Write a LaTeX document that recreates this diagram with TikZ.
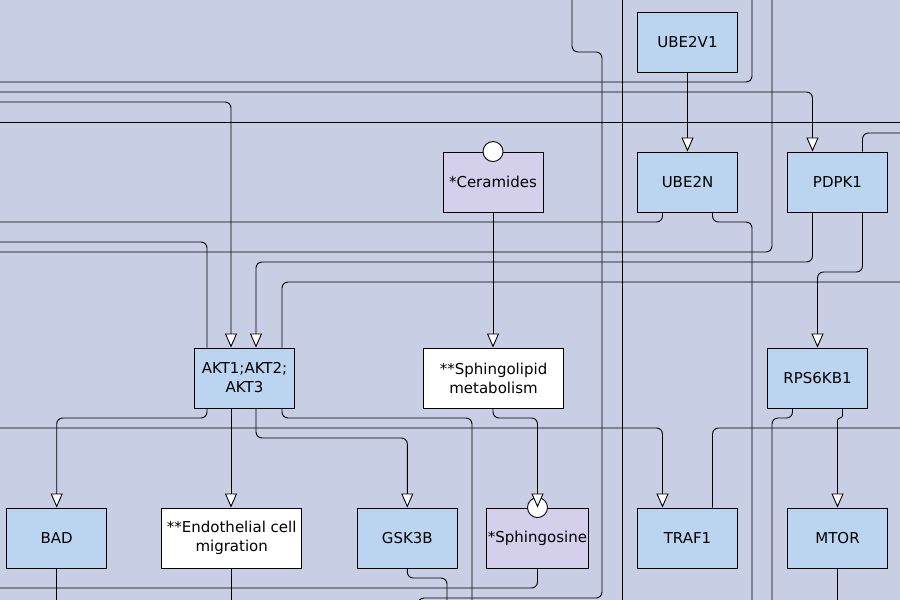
\documentclass[tikz,border=0pt]{standalone}
\usepackage{fontspec}
\setmainfont{DejaVu Sans}
\usetikzlibrary{arrows.meta}
\definecolor{bgc}{RGB}{200,206,228}
\definecolor{geneblue}{RGB}{187,213,240}
\definecolor{metab}{RGB}{212,208,236}
\begin{document}
\begin{tikzpicture}[x=1pt,y=-1pt,
  nodebox/.style={draw=black, line width=0.9pt, minimum width=100pt, minimum height=60pt, inner sep=1pt, align=center, font=\fontsize{15}{19}\selectfont},
  gene/.style={nodebox, fill=geneblue},
  metabolite/.style={nodebox, fill=metab},
  notebox/.style={nodebox, fill=white, minimum width=140pt},
  wire/.style={draw=black, line width=0.9pt, rounded corners=6pt},
  arr/.style={wire, -{Triangle[length=14pt,width=12pt,fill=white]}},
  portcirc/.style={draw=black, line width=0.9pt, fill=white}
]
\fill[bgc] (0,0) rectangle (900,600);
\useasboundingbox (0,0) rectangle (900,600);
\clip (0,0) rectangle (900,600);

% nodes
\node[gene] (ube2v1) at (687.5,42) {UBE2V1};
\node[gene] (ube2n) at (687.5,182) {UBE2N};
\node[gene] (pdpk1) at (837.5,182) {PDPK1};
\node[metabolite] (ceramides) at (493,182) {*Ceramides};
\node[gene] (akt) at (244.5,378) {AKT1;AKT2;\\AKT3};
\node[notebox] (sphingolipid) at (493.5,378) {**Sphingolipid\\metabolism};
\node[gene] (rps6kb1) at (817.5,378) {RPS6KB1};
\node[gene] (bad) at (56.7,538) {BAD};
\node[notebox] (endo) at (231.7,538) {**Endothelial cell\\migration};
\node[gene] (gsk3b) at (407.3,538) {GSK3B};
\node[metabolite] (sphingosine) at (537.5,538) {*Sphingosine};
\node[gene] (traf1) at (687.5,538) {TRAF1};
\node[gene] (mtor) at (837.5,538) {MTOR};

% metabolite ports
\draw[portcirc] (ceramides.north) circle (10pt);
\draw[portcirc] (sphingosine.north) circle (10pt);

% free ends
\coordinate (fA1) at (572,0);
\coordinate (fA2) at (418,600);
\coordinate (fB1) at (622,0);
\coordinate (fB2) at (622,600);
\coordinate (fC1) at (0,82);
\coordinate (fC2) at (752,0);
\coordinate (fD) at (0,92);
\coordinate (fE) at (0,102);
\coordinate (fF1) at (0,122);
\coordinate (fF2) at (900,122);
\coordinate (fG) at (900,133);
\coordinate (fH) at (0,222);
\coordinate (fI) at (752,600);
\coordinate (fJ) at (0,242);
\coordinate (fK1) at (0,252);
\coordinate (fK2) at (772,0);
\coordinate (fL) at (900,282);
\coordinate (fM) at (0,428);
\coordinate (fN) at (900,428);
\coordinate (fO) at (472,600);
\coordinate (fP) at (772,600);
\coordinate (fQ) at (56.7,600);
\coordinate (fR) at (231.7,600);
\coordinate (fS) at (447,600);
\coordinate (fT) at (0,588);
\coordinate (fU) at (837.5,600);

% pass-through wires
\draw[wire] (fA1) -- (572,52) -- (602,52) -- (602,598) -- (418,598) -- (fA2);
\draw[wire] (fB1) -- (fB2);
\draw[wire] (fC1) -- (752,82) -- (fC2);
\draw[wire] (fF1) -- (fF2);
\draw[wire] (fK1) -- (772,252) -- (fK2);

% connectors
\draw[arr] (fD) -- (812.5,92) -- ([xshift=-25pt]pdpk1.north);
\draw[arr] (fE) -- (231,102) -- ([xshift=-13.5pt]akt.north);
\draw[wire] ([xshift=25pt]pdpk1.north) -- (862.5,133) -- (fG);
\draw[arr] (ube2v1) -- (ube2n);
\draw[arr] (ceramides) -- (sphingolipid.north -| ceramides);
\draw[wire] ([xshift=-25pt]ube2n.south) -- (662.5,222) -- (fH);
\draw[wire] ([xshift=25pt]ube2n.south) -- (712.5,222) -- (752,222) -- (fI);
\draw[wire] (fJ) -- (207,242) -- ([xshift=-37.5pt]akt.north);
\draw[arr] ([xshift=-25pt]pdpk1.south) -- (812.5,262) -- (256,262) -- ([xshift=11.5pt]akt.north);
\draw[arr] ([xshift=25pt]pdpk1.south) -- (862.5,272) -- (817.5,272) -- (rps6kb1.north);
\draw[wire] ([xshift=37.5pt]akt.north) -- (282,282) -- (fL);
\draw[arr] ([xshift=-37.5pt]akt.south) -- (207,418) -- (56.7,418) -- (bad.north);
\draw[arr] (fM) -- (662.5,428) -- ([xshift=-25pt]traf1.north);
\draw[wire] ([xshift=25pt]traf1.north) -- (712.5,428) -- (fN);
\draw[arr] ([xshift=-13.5pt]akt.south) -- (endo.north -| 231,0);
\draw[arr] ([xshift=11.5pt]akt.south) -- (256,438) -- (407.3,438) -- (gsk3b.north);
\draw[wire] ([xshift=37.5pt]akt.south) -- (282,418) -- (472,418) -- (fO);
\draw[arr] (sphingolipid.south -| ceramides) -- (493,418) -- (537.5,418) -- (sphingosine.north);
\draw[wire] ([xshift=-25pt]rps6kb1.south) -- (792.5,418) -- (772,418) -- (fP);
\draw[arr, rounded corners=2.5pt] ([xshift=25pt]rps6kb1.south) -- (842.5,418) -- (837.5,418) -- (mtor.north);
\draw[wire] (bad) -- (fQ);
\draw[wire] (endo.south -| 231,0) -- (231,600);
\draw[wire] (gsk3b) -- (407.3,578) -- (447,578) -- (fS);
\draw[wire] (sphingosine) -- (537.5,588) -- (fT);
\draw[wire] (mtor) -- (fU);
\end{tikzpicture}
\end{document}
